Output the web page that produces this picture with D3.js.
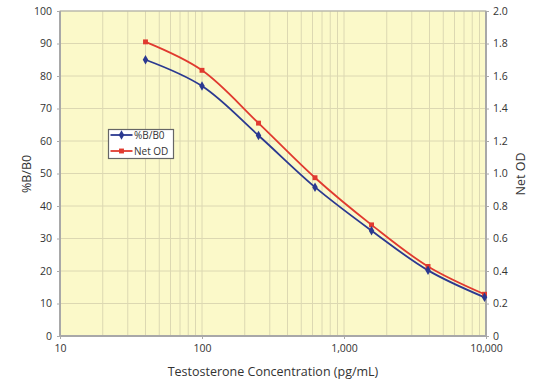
<!DOCTYPE html>
<html><head><meta charset="utf-8">
<script src="https://cdn.jsdelivr.net/npm/d3@7"></script>
<style>body{margin:0;background:#fff;} text{font-family:"Open Sans",sans-serif;}</style>
</head><body>
<svg id="c" width="538" height="387"></svg>
<script>
const concentrations = [40, 100, 250, 625, 1563, 3906, 9766];
const pctBB0 = [85.0, 76.9, 61.7, 45.8, 32.4, 20.2, 11.9];
const netOD = [1.81, 1.635, 1.31, 0.974, 0.684, 0.428, 0.257];
const leftTicks = [0,10,20,30,40,50,60,70,80,90,100];
const rightTicks = [0,0.2,0.4,0.6,0.8,1.0,1.2,1.4,1.6,1.8,2.0];
const xTicks = [10,100,1000,10000];

const svg = d3.select("#c");
const L=60, R=486, T=11, B=336;
const x = d3.scaleLog().domain([10,10000]).range([L,R]);
const yL = d3.scaleLinear().domain([0,100]).range([B,T]);
const yR = d3.scaleLinear().domain([0,2]).range([B,T]);

svg.append("rect").attr("x",L).attr("y",T).attr("width",R-L).attr("height",B-T).attr("fill","#fbf9c9");

const minor=[];
for(let d=10; d<10000; d*=10){ for(let k=1;k<=9;k++) minor.push(d*k); }
minor.push(10000);
svg.append("g").selectAll("line").data(minor).join("line")
  .attr("x1",d=>x(d)).attr("x2",d=>x(d)).attr("y1",T).attr("y2",B)
  .attr("stroke","#dcd8b2").attr("stroke-width",1);
svg.append("g").selectAll("line").data(leftTicks).join("line")
  .attr("x1",L).attr("x2",R).attr("y1",d=>yL(d)).attr("y2",d=>yL(d))
  .attr("stroke","#dcd8b2").attr("stroke-width",1);

svg.append("rect").attr("x",L).attr("y",T).attr("width",R-L).attr("height",B-T)
  .attr("fill","none").attr("stroke","#aaaaaa").attr("stroke-width",1);
svg.append("line").attr("x1",L).attr("x2",R).attr("y1",B).attr("y2",B).attr("stroke","#a8a8a8").attr("stroke-width",2);
svg.append("line").attr("x1",L).attr("x2",L).attr("y1",T).attr("y2",B).attr("stroke","#a8a8a8").attr("stroke-width",2);
svg.append("line").attr("x1",R).attr("x2",R).attr("y1",T).attr("y2",B).attr("stroke","#a8a8a8").attr("stroke-width",2);

const tc="#333";
const gl = svg.append("g").attr("transform",`translate(${L},0)`)
  .call(d3.axisLeft(yL).tickValues(leftTicks).tickSize(3).tickPadding(5).tickFormat(d3.format("d")));
const gr = svg.append("g").attr("transform",`translate(${R},0)`)
  .call(d3.axisRight(yR).tickValues(rightTicks).tickSize(3).tickPadding(4).tickFormat(d=>d===0?"0":d3.format(".1f")(d)));
const gx = svg.append("g").attr("transform",`translate(0,${B})`)
  .call(d3.axisBottom(x).tickValues(xTicks).tickSize(3).tickPadding(6).tickFormat(d3.format(",")));
[gl,gr,gx].forEach(g=>{
  g.select(".domain").remove();
  g.selectAll("line").attr("stroke","#aaa");
  g.selectAll("text").attr("fill",tc).style("font-size","10.5px").style("font-family","'Open Sans',sans-serif");
});

svg.append("text").attr("x",(L+R)/2).attr("y",376).attr("text-anchor","middle")
  .attr("fill",tc).style("font-size","12.5px").text("Testosterone Concentration (pg/mL)");
svg.append("text").attr("transform",`translate(31,174) rotate(-90)`).attr("text-anchor","middle")
  .attr("fill",tc).style("font-size","12.5px").text("%B/B0");
svg.append("text").attr("transform",`translate(525,174) rotate(-90)`).attr("text-anchor","middle")
  .attr("fill",tc).style("font-size","12.5px").text("Net OD");

const blue="#2b3990", red="#e03a2f";
const curve = d3.curveCatmullRom.alpha(0.5);
const lineB = d3.line().x((d,i)=>x(concentrations[i])).y(d=>yL(d)).curve(curve);
const lineR = d3.line().x((d,i)=>x(concentrations[i])).y(d=>yR(d)).curve(curve);
svg.append("path").datum(netOD).attr("d",lineR).attr("fill","none").attr("stroke",red).attr("stroke-width",1.8);
svg.append("path").datum(pctBB0).attr("d",lineB).attr("fill","none").attr("stroke",blue).attr("stroke-width",1.8);
const sym = d3.symbol().type(d3.symbolSquare).size(24);
const dia = d3.symbol().type(d3.symbolDiamond).size(26);
svg.append("g").selectAll("path").data(netOD).join("path")
  .attr("transform",(d,i)=>`translate(${x(concentrations[i])},${yR(d)})`).attr("d",sym).attr("fill",red);
svg.append("g").selectAll("path").data(pctBB0).join("path")
  .attr("transform",(d,i)=>`translate(${x(concentrations[i])},${yL(d)})`).attr("d",dia).attr("fill",blue);

const lg = svg.append("g").attr("transform","translate(108.5,129.5)");
lg.append("rect").attr("width",65).attr("height",29).attr("fill","#fff").attr("stroke","#666").attr("stroke-width",1.2);
lg.append("line").attr("x1",2).attr("x2",24).attr("y1",5.5).attr("y2",5.5).attr("stroke",blue).attr("stroke-width",1.8);
lg.append("path").attr("transform","translate(13,5.5)").attr("d",dia).attr("fill",blue);
lg.append("text").attr("x",25.5).attr("y",9).attr("fill",tc).style("font-size","10px").text("%B/B0");
lg.append("line").attr("x1",2).attr("x2",24).attr("y1",21.5).attr("y2",21.5).attr("stroke",red).attr("stroke-width",1.8);
lg.append("path").attr("transform","translate(13,21.5)").attr("d",sym).attr("fill",red);
lg.append("text").attr("x",25.5).attr("y",25).attr("fill",tc).style("font-size","10px").text("Net OD");
</script>
</body></html>
